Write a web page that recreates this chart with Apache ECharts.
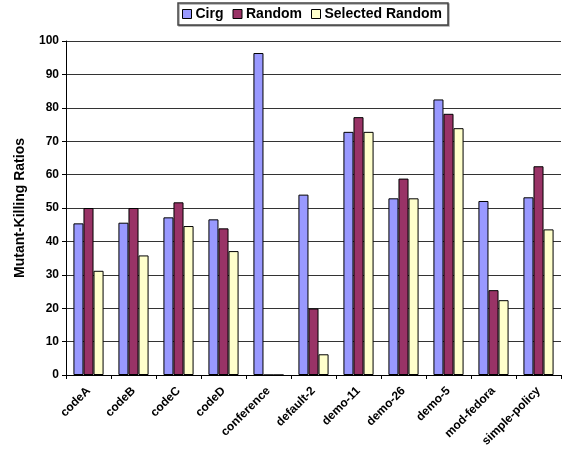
<!DOCTYPE html>
<html>
<head>
<meta charset="utf-8">
<script src="https://cdn.jsdelivr.net/npm/echarts@6/dist/echarts.min.js"></script>
<style>
  html, body { margin: 0; padding: 0; background: #fff; }
  #chart { width: 564px; height: 453px; }
</style>
</head>
<body>
<div id="chart"></div>
<script>
// Mutant-killing ratios per subject, for three test-generation strategies
const categories = ['codeA', 'codeB', 'codeC', 'codeD', 'conference', 'default-2',
  'demo-11', 'demo-26', 'demo-5', 'mod-fedora', 'simple-policy'];
const seriesNames = ['Cirg', 'Random', 'Selected Random'];
const cirg = [45.4, 45.6, 47.2, 46.6, 96.4, 54.0, 72.8, 52.9, 82.5, 52.1, 53.2];
const random = [50.0, 50.0, 51.7, 43.9, 0, 19.9, 77.2, 58.8, 78.2, 25.4, 62.5];
const selectedRandom = [31.2, 35.8, 44.6, 37.1, 0, 6.2, 72.8, 52.9, 73.9, 22.4, 43.6];
const yTicks = { min: 0, max: 100, interval: 10 };

const colors = ['#9999FF', '#993366', '#FFFFCC'];
const font = 'Liberation Sans, Arial, sans-serif';

const chart = echarts.init(document.getElementById('chart'), null, { renderer: 'canvas' });

const values = [cirg, random, selectedRandom];
chart.setOption({
  animation: false,
  backgroundColor: '#fff',
  legend: {
    left: 178,
    top: 3,
    padding: [4, 6, 4, 4],
    itemGap: 9,
    itemWidth: 9,
    itemHeight: 9,
    borderColor: '#444',
    borderWidth: 1.5,
    shadowColor: 'rgba(0,0,0,0.35)',
    shadowOffsetX: 1,
    shadowOffsetY: 1,
    backgroundColor: '#fff',
    textStyle: { fontFamily: font, fontWeight: 'bold', fontSize: 14, color: '#000', padding: [0, 0, 0, -1] },
    data: seriesNames.map((n, i) => ({
      name: n,
      icon: 'rect',
      itemStyle: { color: colors[i], borderColor: '#000', borderWidth: 1 }
    }))
  },
  grid: { left: 66, right: 3, top: 41, bottom: 78, containLabel: false },
  xAxis: {
    type: 'category',
    data: categories,
    axisLine: { lineStyle: { color: '#000', width: 1 } },
    axisTick: { show: true, length: 4, lineStyle: { color: '#000' } },
    axisLabel: {
      rotate: 45,
      interval: 0,
      margin: 14,
      fontFamily: font,
      fontWeight: 'bold',
      fontSize: 12,
      color: '#000'
    }
  },
  yAxis: {
    type: 'value',
    min: yTicks.min,
    max: yTicks.max,
    interval: yTicks.interval,
    name: 'Mutant-Killing Ratios',
    nameLocation: 'middle',
    nameGap: 39,
    nameTextStyle: { fontFamily: font, fontWeight: 'bold', fontSize: 14, color: '#000' },
    axisLine: { show: true, lineStyle: { color: '#000', width: 1 } },
    axisTick: { show: true, length: 4, lineStyle: { color: '#000' } },
    axisLabel: { fontFamily: font, fontWeight: 'bold', fontSize: 12, color: '#000', margin: 7 },
    splitLine: { show: true, lineStyle: { color: '#333', width: 1 } }
  },
  series: seriesNames.map((n, i) => ({
    name: n,
    type: 'bar',
    data: values[i],
    barGap: '0%',
    barCategoryGap: '33%',
    itemStyle: { color: colors[i], borderColor: '#000', borderWidth: 1 }
  }))
});
</script>
</body>
</html>
